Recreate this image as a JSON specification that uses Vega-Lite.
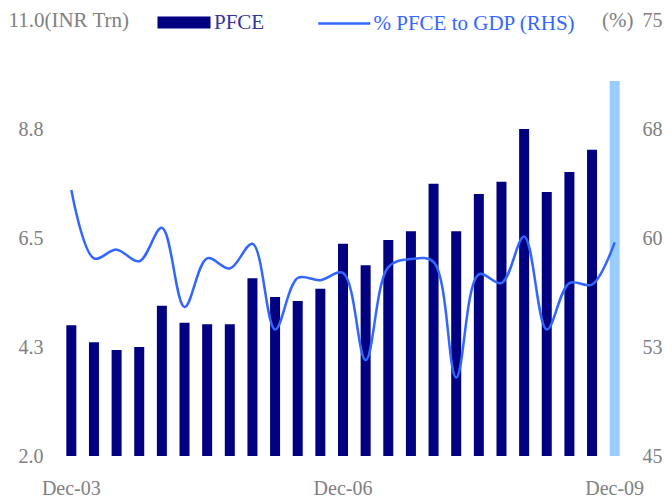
{
  "$schema": "https://vega.github.io/schema/vega-lite/v6.json",
  "width": 566,
  "height": 436,
  "autosize": {"type": "none"},
  "padding": {"left": 60, "top": 20, "right": 46, "bottom": 43},
  "background": "white",
  "config": {
    "view": {"stroke": null},
    "font": "Liberation Serif",
    "axis": {
      "grid": false, "domain": false, "ticks": false,
      "labelFont": "Liberation Serif", "labelFontSize": 20, "labelColor": "#808080",
      "titleFont": "Liberation Serif", "titleFontSize": 21, "titleColor": "#808080", "titleFontWeight": "normal"
    }
  },
  "data": {"values": [
    {"q": "Dec-03", "pfce": 4.70, "pct": 63.3, "latest": false},
    {"q": "Mar-04", "pfce": 4.35, "pct": 58.6, "latest": false},
    {"q": "Jun-04", "pfce": 4.19, "pct": 59.2, "latest": false},
    {"q": "Sep-04", "pfce": 4.25, "pct": 58.4, "latest": false},
    {"q": "Dec-04", "pfce": 5.10, "pct": 60.7, "latest": false},
    {"q": "Mar-05", "pfce": 4.75, "pct": 55.25, "latest": false},
    {"q": "Jun-05", "pfce": 4.72, "pct": 58.6, "latest": false},
    {"q": "Sep-05", "pfce": 4.72, "pct": 57.9, "latest": false},
    {"q": "Dec-05", "pfce": 5.67, "pct": 59.6, "latest": false},
    {"q": "Mar-06", "pfce": 5.28, "pct": 53.7, "latest": false},
    {"q": "Jun-06", "pfce": 5.20, "pct": 57.25, "latest": false},
    {"q": "Sep-06", "pfce": 5.45, "pct": 57.1, "latest": false},
    {"q": "Dec-06", "pfce": 6.38, "pct": 57.6, "latest": false},
    {"q": "Mar-07", "pfce": 5.94, "pct": 51.6, "latest": false},
    {"q": "Jun-07", "pfce": 6.46, "pct": 58.0, "latest": false},
    {"q": "Sep-07", "pfce": 6.64, "pct": 58.55, "latest": false},
    {"q": "Dec-07", "pfce": 7.62, "pct": 58.35, "latest": false},
    {"q": "Mar-08", "pfce": 6.64, "pct": 50.4, "latest": false},
    {"q": "Jun-08", "pfce": 7.41, "pct": 57.5, "latest": false},
    {"q": "Sep-08", "pfce": 7.66, "pct": 56.9, "latest": false},
    {"q": "Dec-08", "pfce": 8.75, "pct": 60.1, "latest": false},
    {"q": "Mar-09", "pfce": 7.45, "pct": 53.7, "latest": false},
    {"q": "Jun-09", "pfce": 7.86, "pct": 56.9, "latest": false},
    {"q": "Sep-09", "pfce": 8.32, "pct": 56.8, "latest": false},
    {"q": "Dec-09", "pfce": 9.74, "pct": 59.7, "latest": true}
  ]},
  "encoding": {
    "x": {
      "field": "q", "type": "ordinal", "sort": null,
      "scale": {"paddingInner": 0, "paddingOuter": 0},
      "axis": {"values": ["Dec-03", "Dec-06", "Dec-09"], "labelAngle": 0, "labelPadding": 22, "title": null}
    }
  },
  "layer": [
    {
      "mark": {"type": "bar", "size": 10},
      "encoding": {
        "y": {
          "field": "pfce", "type": "quantitative",
          "scale": {"domain": [2, 11], "zero": false, "nice": false},
          "axis": {
            "orient": "left", "values": [2, 4.25, 6.5, 8.75, 11], "format": ".1f",
            "labelExpr": "datum.value == 11 ? '' : datum.label",
            "labelPadding": 17,
            "title": "11.0(INR Trn)", "titleAngle": 0, "titleX": -52, "titleY": 0,
            "titleAlign": "left", "titleBaseline": "middle"
          }
        },
        "y2": {"datum": 2},
        "color": {
          "condition": {"test": "datum.latest", "value": "#99CCFF"},
          "datum": "PFCE", "type": "nominal",
          "scale": {"range": ["#000080"]},
          "legend": {
            "orient": "none", "legendX": 111.5, "legendY": -10, "title": null,
            "symbolType": "M-2.2,-0.5H2.2V0.5H-2.2Z", "symbolSize": 581, "symbolStrokeWidth": 0,
            "labelColor": "#333399", "labelFont": "Liberation Serif", "labelFontSize": 21, "labelOffset": 17.5,
            "labelLimit": 300
          }
        }
      }
    },
    {
      "mark": {"type": "line", "interpolate": "catmull-rom", "strokeWidth": 2.5},
      "encoding": {
        "y": {
          "field": "pct", "type": "quantitative",
          "scale": {"domain": [45, 75], "zero": false, "nice": false},
          "axis": {
            "orient": "right", "values": [45, 52.5, 60, 67.5, 75], "format": ".0f",
            "labelPadding": 16,
            "title": "(%)", "titleAngle": 0, "titleX": 7, "titleY": 0,
            "titleAlign": "right", "titleBaseline": "middle"
          }
        },
        "color": {
          "datum": "% PFCE to GDP (RHS)", "type": "nominal",
          "scale": {"range": ["#3366FF"]},
          "legend": {
            "orient": "none", "legendX": 256.75, "legendY": -24, "title": null,
            "symbolType": "stroke", "symbolSize": 2704, "symbolStrokeWidth": 2.5,
            "labelColor": "#3366FF", "labelFont": "Liberation Serif", "labelFontSize": 21, "labelOffset": 1.75,
            "labelLimit": 300
          }
        }
      }
    }
  ],
  "resolve": {"scale": {"y": "independent", "color": "independent"}}
}
